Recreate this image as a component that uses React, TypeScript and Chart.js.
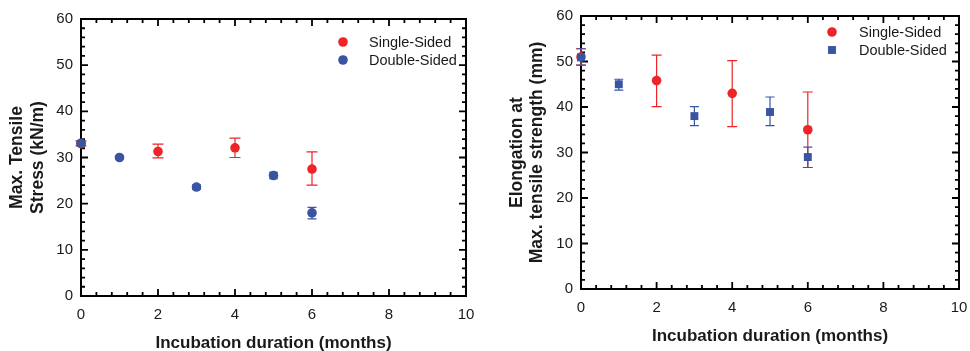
import React, { useEffect, useRef } from "react";
import { Chart, registerables } from "chart.js";

Chart.register(...registerables);

// ---------- data ----------
const SERIES_NAMES = ["Single-Sided", "Double-Sided"];
const X_TICKS = [0, 2, 4, 6, 8, 10];
const Y_TICKS = [0, 10, 20, 30, 40, 50, 60];
const X_TITLE = "Incubation duration (months)";
const STRESS_Y_TITLE = ["Max. Tensile", "Stress (kN/m)"];
const ELONG_Y_TITLE = ["Elongation at", "Max. tensile strength (mm)"];

const stressSingleMonths = [0, 2, 4, 6];
const stressSingleValues = [33.0, 31.3, 32.1, 27.5];
const stressSingleUpper = [33.6, 32.9, 34.2, 31.2];
const stressSingleLower = [32.5, 29.9, 30.0, 24.0];

const stressDoubleMonths = [0, 1, 3, 5, 6];
const stressDoubleValues = [33.1, 30.0, 23.6, 26.1, 18.0];
const stressDoubleUpper = [33.5, 30.3, 24.1, 26.8, 19.2];
const stressDoubleLower = [32.7, 29.7, 23.1, 25.4, 16.7];

const elongSingleMonths = [0, 2, 4, 6];
const elongSingleValues = [51.0, 45.8, 43.0, 35.0];
const elongSingleUpper = [52.8, 51.4, 50.2, 43.3];
const elongSingleLower = [49.2, 40.1, 35.7, 26.7];

const elongDoubleMonths = [0, 1, 3, 5, 6];
const elongDoubleValues = [50.9, 45.0, 38.0, 38.9, 29.0];
const elongDoubleUpper = [52.8, 46.1, 40.1, 42.2, 31.2];
const elongDoubleLower = [49.2, 43.7, 35.9, 35.9, 26.7];

// ---------- styles ----------
const RED = "#ee2526";
const BLUE = "#3a54a4";
const FONT = "'Liberation Sans', Arial, Helvetica, sans-serif";
const TEXT = "#1a1a1a";

type SeriesDef = {
  label: string;
  months: number[];
  values: number[];
  upper: number[];
  lower: number[];
  color: string;
  pointStyle: string;
  radius: number;
  cap: number;
  order: number;
};

type Layout = {
  left: number;
  yAxisWidth: number;
  xAxisHeight: number;
  padTop: number;
  padRight: number;
  yTitleX: number[];
  xTitleY: number;
  legendMarkerX: number;
  legendTextX: number;
  legendY: number[];
};

function drawMarker(ctx: CanvasRenderingContext2D, style: string, x: number, y: number, r: number, color: string) {
  ctx.save();
  ctx.fillStyle = color;
  ctx.beginPath();
  if (style === "rect") {
    const s = Math.SQRT1_2 * r;
    ctx.rect(x - s, y - s, 2 * s, 2 * s);
  } else {
    ctx.arc(x, y, r, 0, Math.PI * 2);
  }
  ctx.fill();
  ctx.restore();
}

function Panel({ series, yTitle, layout }: { series: SeriesDef[]; yTitle: string[]; layout: Layout }) {
  const ref = useRef<HTMLCanvasElement | null>(null);

  useEffect(() => {
    const canvas = ref.current;
    if (!canvas) return;

    const decor = {
      id: "decor",
      beforeDatasetsDraw(chart: any) {
        const ctx: CanvasRenderingContext2D = chart.ctx;
        const { left, right, top, bottom } = chart.chartArea;
        const xs = chart.scales.x;
        const ys = chart.scales.y;
        ctx.save();
        // frame
        ctx.strokeStyle = "#000";
        ctx.lineWidth = 2;
        ctx.strokeRect(left, top, right - left, bottom - top);
        // ticks (inward, all sides)
        ctx.lineWidth = 1.8;
        ctx.beginPath();
        for (let i = 0; i <= 25; i++) {
          const v = i * 0.4;
          const px = xs.getPixelForValue(v);
          const len = i % 5 === 0 ? 7 : 4;
          ctx.moveTo(px, bottom);
          ctx.lineTo(px, bottom - len);
          ctx.moveTo(px, top);
          ctx.lineTo(px, top + len);
        }
        for (let i = 0; i <= 30; i++) {
          const v = i * 2;
          const py = ys.getPixelForValue(v);
          const len = i % 5 === 0 ? 7 : 4;
          ctx.moveTo(left, py);
          ctx.lineTo(left + len, py);
          ctx.moveTo(right, py);
          ctx.lineTo(right - len, py);
        }
        ctx.stroke();

        // error bars
        chart.data.datasets.forEach((ds: any, di: number) => {
          const def = series[di];
          ctx.strokeStyle = def.color;
          ctx.lineWidth = 1.2;
          ctx.beginPath();
          def.months.forEach((m, k) => {
            const px = xs.getPixelForValue(m);
            const pHi = ys.getPixelForValue(def.upper[k]);
            const pLo = ys.getPixelForValue(def.lower[k]);
            ctx.moveTo(px, pHi);
            ctx.lineTo(px, pLo);
            ctx.moveTo(px - def.cap, pHi);
            ctx.lineTo(px + def.cap, pHi);
            ctx.moveTo(px - def.cap, pLo);
            ctx.lineTo(px + def.cap, pLo);
          });
          ctx.stroke();
        });

        // axis titles
        ctx.fillStyle = TEXT;
        ctx.font = `bold 17px ${FONT}`;
        ctx.textAlign = "center";
        ctx.textBaseline = "middle";
        ctx.fillText(X_TITLE, (left + right) / 2, layout.xTitleY);
        ctx.font = `bold 17.5px ${FONT}`;
        const cy = (top + bottom) / 2;
        yTitle.forEach((line, i) => {
          ctx.save();
          ctx.translate(layout.yTitleX[i], cy);
          ctx.rotate(-Math.PI / 2);
          ctx.fillText(line, 0, 0);
          ctx.restore();
        });

        // legend
        ctx.font = `14.5px ${FONT}`;
        ctx.textAlign = "left";
        series.forEach((s, i) => {
          const y = layout.legendY[i];
          drawMarker(ctx, s.pointStyle, layout.legendMarkerX, y, s.radius, s.color);
          ctx.fillStyle = TEXT;
          ctx.fillText(s.label, layout.legendTextX, y + 1);
        });
        ctx.restore();
      },
    };

    const tickFont = { family: FONT, size: 15 };

    const chart = new Chart(canvas, {
      type: "scatter",
      data: {
        datasets: series.map((s) => ({
          label: s.label,
          data: s.months.map((m, k) => ({ x: m, y: s.values[k] })),
          backgroundColor: s.color,
          borderColor: s.color,
          borderWidth: 0,
          pointStyle: s.pointStyle as any,
          pointRadius: s.radius,
          pointHoverRadius: s.radius,
          order: s.order,
          clip: false as any,
        })),
      },
      options: {
        animation: false,
        responsive: false,
        maintainAspectRatio: false,
        events: [],
        layout: { padding: { top: layout.padTop, right: layout.padRight, left: 0, bottom: 0 } },
        plugins: {
          legend: { display: false },
          tooltip: { enabled: false },
          title: { display: false },
        },
        scales: {
          x: {
            type: "linear",
            min: 0,
            max: 10,
            afterBuildTicks: (s: any) => {
              s.ticks = X_TICKS.map((v) => ({ value: v }));
            },
            ticks: { font: tickFont, color: TEXT, padding: 10, maxRotation: 0, autoSkip: false },
            grid: { display: false, drawTicks: false },
            border: { display: false },
            afterFit: (s: any) => {
              s.height = layout.xAxisHeight;
              s.paddingLeft = 0;
              s.paddingRight = 0;
            },
          },
          y: {
            type: "linear",
            min: 0,
            max: 60,
            afterBuildTicks: (s: any) => {
              s.ticks = Y_TICKS.map((v) => ({ value: v }));
            },
            ticks: { font: tickFont, color: TEXT, padding: 8, autoSkip: false },
            grid: { display: false, drawTicks: false },
            border: { display: false },
            afterFit: (s: any) => {
              s.width = layout.yAxisWidth;
              s.paddingTop = 0;
              s.paddingBottom = 0;
            },
          },
        },
      },
      plugins: [decor],
    } as any);

    return () => chart.destroy();
  }, []);

  return (
    <canvas
      ref={ref}
      width={485}
      height={351}
      style={{ position: "absolute", left: layout.left, top: 0, width: 485, height: 351 }}
    />
  );
}

const stressSeries: SeriesDef[] = [
  {
    label: SERIES_NAMES[0],
    months: stressSingleMonths,
    values: stressSingleValues,
    upper: stressSingleUpper,
    lower: stressSingleLower,
    color: RED,
    pointStyle: "circle",
    radius: 4.8,
    cap: 5.5,
    order: 1,
  },
  {
    label: SERIES_NAMES[1],
    months: stressDoubleMonths,
    values: stressDoubleValues,
    upper: stressDoubleUpper,
    lower: stressDoubleLower,
    color: BLUE,
    pointStyle: "circle",
    radius: 4.8,
    cap: 4.5,
    order: 0,
  },
];

const elongSeries: SeriesDef[] = [
  {
    label: SERIES_NAMES[0],
    months: elongSingleMonths,
    values: elongSingleValues,
    upper: elongSingleUpper,
    lower: elongSingleLower,
    color: RED,
    pointStyle: "circle",
    radius: 4.8,
    cap: 5,
    order: 1,
  },
  {
    label: SERIES_NAMES[1],
    months: elongDoubleMonths,
    values: elongDoubleValues,
    upper: elongDoubleUpper,
    lower: elongDoubleLower,
    color: BLUE,
    pointStyle: "rect",
    radius: 5.6,
    cap: 4.5,
    order: 0,
  },
];

const stressLayout: Layout = {
  left: 0,
  yAxisWidth: 81,
  xAxisHeight: 55,
  padTop: 19,
  padRight: 19,
  yTitleX: [17.5, 38],
  xTitleY: 343,
  legendMarkerX: 343,
  legendTextX: 369,
  legendY: [42, 60],
};

const elongLayout: Layout = {
  left: 485,
  yAxisWidth: 96,
  xAxisHeight: 62,
  padTop: 16,
  padRight: 11,
  yTitleX: [32, 52],
  xTitleY: 336,
  legendMarkerX: 347,
  legendTextX: 374,
  legendY: [32, 50],
};

export default function App() {
  useEffect(() => {
    document.body.style.margin = "0";
    document.body.style.background = "#fff";
  }, []);
  return (
    <div style={{ position: "relative", width: 970, height: 351, background: "#fff", overflow: "hidden" }}>
      <Panel series={stressSeries} yTitle={STRESS_Y_TITLE} layout={stressLayout} />
      <Panel series={elongSeries} yTitle={ELONG_Y_TITLE} layout={elongLayout} />
    </div>
  );
}
